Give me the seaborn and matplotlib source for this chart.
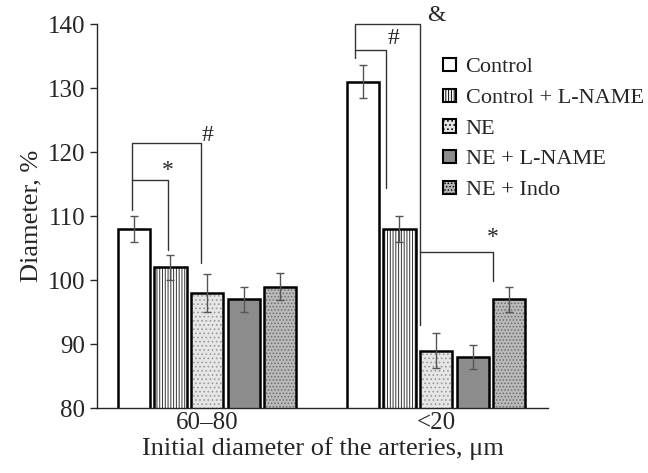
import numpy as np
import pandas as pd
import seaborn as sns
import matplotlib.pyplot as plt
from matplotlib.patches import Rectangle, Patch

# --- data ---
groups = ['60\u201380', '<20']
series = ['Control', 'Control + L-NAME', 'NE', 'NE + L-NAME', 'NE + Indo']
values = {
    'Control':          [108, 131],
    'Control + L-NAME': [102, 108],
    'NE':               [98, 89],
    'NE + L-NAME':      [97, 88],
    'NE + Indo':        [99, 97],
}
errors = {
    'Control':          [2.0, 2.6],
    'Control + L-NAME': [2.0, 2.1],
    'NE':               [2.9, 2.7],
    'NE + L-NAME':      [1.9, 1.8],
    'NE + Indo':        [2.1, 2.0],
}

# significance brackets: (group, from, to, top y, left leg end, right leg end, symbol, symbol y, symbol dx)
brackets = [
    (0, 'Control', 'Control + L-NAME', 115.6, 111.0, 104.7, '*', 117.2, 0.0),
    (0, 'Control', 'NE', 121.4, 115.6, 102.7, '#', 122.6, 0.03),
    (1, 'Control', 'Control + L-NAME', 136.0, 134.7, 114.4, '#', 137.8, 0.03),
    (1, 'Control', 'NE', 140.0, 136.0, 93.0, '&', 141.4, 0.07),
]
# where along each bar the bracket leg sits (fraction of bar width)
leg_frac = {(0, 'Control'): 0.44, (0, 'Control + L-NAME'): 0.41, (0, 'NE'): 0.31,
            (1, 'Control'): 0.27, (1, 'Control + L-NAME'): 0.09, (1, 'NE'): 0.0,
            (1, 'NE + Indo'): 0.0}

faces = ['white', 'white', '#e6e6e6', '#8c8c8c', '#bababa']
hatches = [None, '||||||', '....', None, '.....']
hatch_cols = [None, '#333333', '#9a9a9a', None, '#6e6e6e']

rows = []
for s in series:
    for g, v in zip(groups, values[s]):
        rows.append({'group': g, 'series': s, 'value': v})
df = pd.DataFrame(rows)

sns.set_style('ticks')
plt.rcParams['font.family'] = ['Liberation Serif', 'DejaVu Serif']
plt.rcParams['hatch.linewidth'] = 0.7

fig = plt.figure(figsize=(6.48, 4.73), dpi=100)
ax = fig.add_axes([0.150, 0.137, 0.696, 0.812])

sns.barplot(data=df, x='group', y='value', hue='series', order=groups,
            hue_order=series, palette=faces, edgecolor='black', linewidth=1.8,
            gap=0.12, errorbar=None, ax=ax, legend=False)

# bar geometry comes from the drawn patches
geom = {}
for i, (cont, s) in enumerate(zip(ax.containers, series)):
    for j, p in enumerate(cont.patches):
        x0, w, h = p.get_x(), p.get_width(), p.get_height()
        y0 = p.get_y()
        if hatches[i]:
            # hatch in grey, then a black outline on top
            p.set_hatch(hatches[i])
            p.set_edgecolor(hatch_cols[i])
            p.set_linewidth(0)
            ax.add_patch(Rectangle((x0, y0), w, h, fill=False, edgecolor='black',
                                   linewidth=1.8, zorder=p.get_zorder() + 0.1))
        geom[(j, s)] = (x0, w)
        ax.errorbar(x0 + w / 2, values[s][j], yerr=errors[s][j], color='#555555',
                    lw=1.0, capsize=3, capthick=1.0, zorder=5)

def leg_x(g, s):
    x0, w = geom[(g, s)]
    return x0 + leg_frac[(g, s)] * w

for g, s1, s2, ytop, y1, y2, sym, ysym, dx in brackets:
    xa, xb = leg_x(g, s1), leg_x(g, s2)
    ax.plot([xa, xa, xb, xb], [y1, ytop, ytop, y2], color='#333333', lw=1.0,
            clip_on=False, zorder=6)
    ax.text(xb + dx, ysym, sym, ha='center', va='center', fontsize=17, clip_on=False)

# lower bracket in the <20 group: NE leg to NE + Indo
xa, xb = leg_x(1, 'NE'), leg_x(1, 'NE + Indo')
ax.plot([xa, xb, xb], [104.4, 104.4, 99.8], color='#333333', lw=1.0, zorder=6)
ax.text(xb, 106.6, '*', ha='center', va='center', fontsize=17)

ax.set_ylim(80, 140)
ax.set_xlim(-0.48, 1.49)
ax.set_yticks(np.arange(80, 141, 10))
ax.tick_params(axis='y', labelsize=18, length=5, width=1)
ax.tick_params(axis='x', labelsize=18, length=0, pad=3)
ax.set_xlabel('Initial diameter of the arteries, \u03bcm', fontsize=19, labelpad=2)
ax.set_ylabel('Diameter, %', fontsize=19)
sns.despine(ax=ax)
for sp in ax.spines.values():
    sp.set_linewidth(1.0)

handles = [Patch(facecolor=faces[i], edgecolor='black', hatch=hatches[i], linewidth=1.5,
                 label=s) for i, s in enumerate(series)]
ax.legend(handles=handles, loc='upper left', bbox_to_anchor=(0.667, 0.901),
          bbox_transform=fig.transFigure, frameon=False, fontsize=16,
          handlelength=0.55, handleheight=0.55, handletextpad=0.45,
          labelspacing=0.5, borderpad=0)

fig.savefig('out.png', dpi=100)
